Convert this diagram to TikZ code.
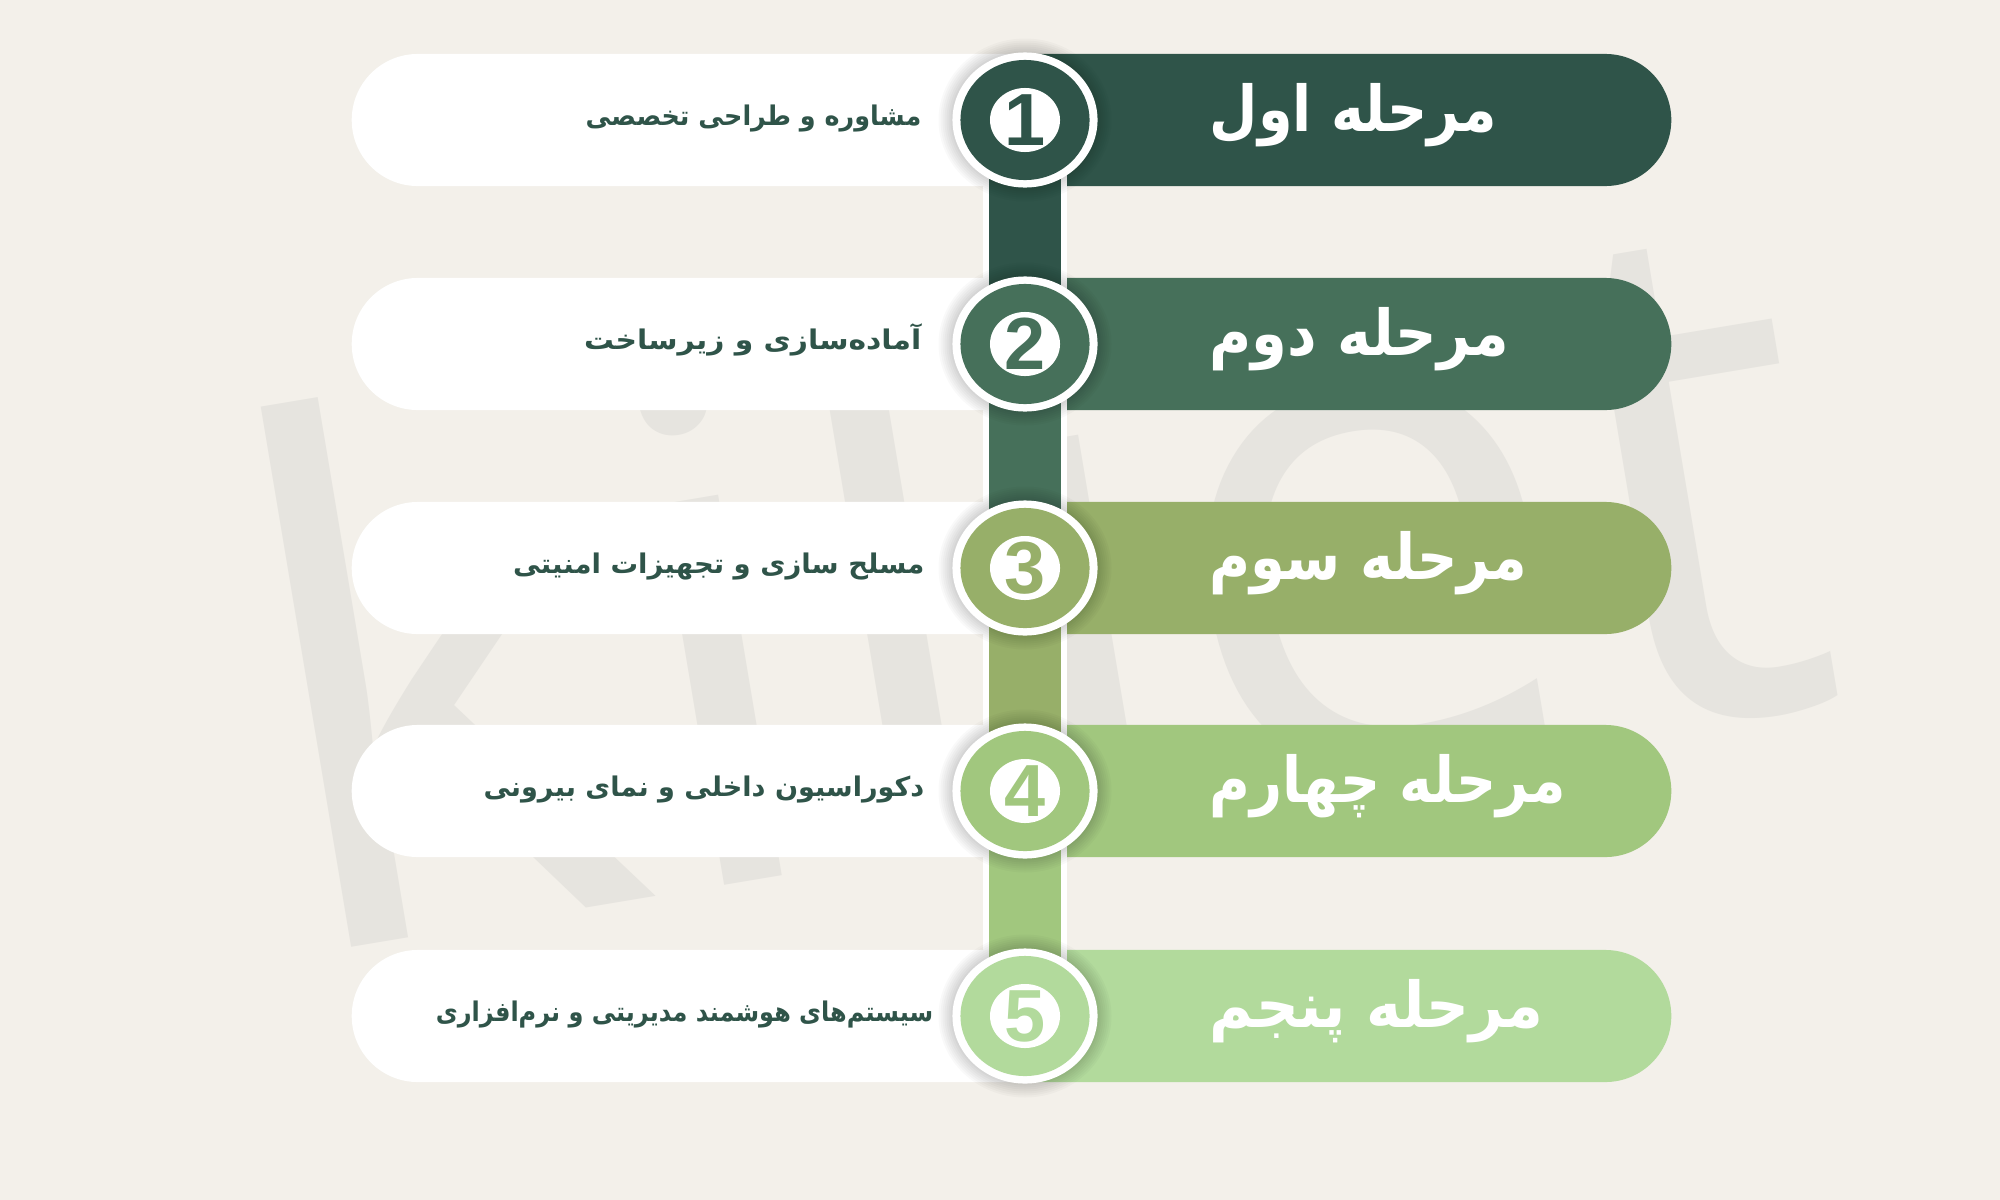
\documentclass[tikz,border=0pt]{standalone}
\usepackage{fontspec}
\usetikzlibrary{shapes.geometric,shapes.misc}
\setmainfont{DejaVu Sans}
\newfontfamily\fa[Script=Arabic]{DejaVu Sans}
\newfontfamily\wmfont{Open Sans}
\newfontfamily\numfont{Liberation Sans}
\TeXXeTstate=1
\definecolor{bgc}{HTML}{F3F0EA}
\definecolor{wmc}{HTML}{E6E4DF}
\definecolor{cA}{HTML}{2F5449}
\definecolor{cB}{HTML}{46705A}
\definecolor{cC}{HTML}{97AF69}
\definecolor{cD}{HTML}{A1C77E}
\definecolor{cE}{HTML}{B2DA9C}
\definecolor{txt}{HTML}{2F5449}
\tikzset{
  lpill/.style={rounded rectangle, rounded rectangle right arc=none, fill=white,
    minimum width=6.74cm, minimum height=1.32cm, inner sep=0, anchor=west},
  rpill/.style={rounded rectangle, rounded rectangle left arc=none, fill=#1,
    minimum width=6.47cm, minimum height=1.32cm, inner sep=0, anchor=east},
  ring/.style={ellipse, fill=white, minimum width=1.45cm, minimum height=1.35cm, inner sep=0},
  core/.style={ellipse, fill=#1, minimum width=1.29cm, minimum height=1.20cm, inner sep=0},
  disc/.style={ellipse, fill=white, minimum width=0.70cm, minimum height=0.64cm, inner sep=0},
  digit/.style={text=#1, font=\numfont\bfseries\fontsize{21}{21}\selectfont, inner sep=0},
  title/.style={anchor=base west, text=white, inner sep=0,
    font=\fa\bfseries\fontsize{18}{18}\selectfont},
  desc/.style={anchor=base east, text=txt, inner sep=0,
    font=\fa\bfseries\fontsize{7.7}{8}\selectfont},
}
\begin{document}
\begin{tikzpicture}[x=0.01cm,y=-0.01cm]
\useasboundingbox (0,0) rectangle (2000,1200);
\fill[bgc] (0,0) rectangle (2000,1200);
% watermark
\node[rotate=9.5, anchor=base west, inner sep=0, text=wmc,
  font=\wmfont\fontsize{205}{205}\selectfont] (water) at (290,958) {kiliet};
% centres
\coordinate (p1) at (1025,120);
\coordinate (p2) at (1025,344);
\coordinate (p3) at (1025,568);
\coordinate (p4) at (1025,791);
\coordinate (p5) at (1025,1016);
% pills
\foreach \i/\yy/\col in {1/120/cA,2/344/cB,3/568/cC,4/791/cD,5/1016/cE}{
  \node[lpill] (w\i) at (351,\yy) {};
  \node[rpill=\col] (r\i) at (1672,\yy) {};
}
% bar
\foreach \a/\b/\col in {p1/p2/cA,p2/p3/cB,p3/p4/cC,p4/p5/cD}{
  \draw[white, line width=0.83cm] (\a) -- (\b);
  \draw[\col, line width=0.71cm] (\a) -- (\b);
}
% circles with shadows
\foreach \i/\col in {1/cA,2/cB,3/cC,4/cD,5/cE}{
  \foreach \k in {1,...,7}{
    \fill[black, opacity=0.022] (p\i) ellipse [x radius={72.5+\k*2}, y radius={67.5+\k*2}];
  }
  \node[ring] (o\i) at (p\i) {};
  \node[core=\col] (i\i) at (p\i) {};
  \node[disc] (s\i) at (p\i) {};
  \node[digit=\col] (n\i) at (p\i) {\i};
}
% titles
\node[title] (t1) at (1209,131) {\scalebox{0.88}[1]{\beginR مرحله اول\endR}};
\node[title] (t2) at (1209,355) {\scalebox{0.91}[1]{\beginR مرحله دوم\endR}};
\node[title] (t3) at (1209,579) {\scalebox{0.885}[1]{\beginR مرحله سوم\endR}};
\node[title] (t4) at (1209,802) {\scalebox{0.88}[1]{\beginR مرحله چهارم\endR}};
\node[title] (t5) at (1209,1027) {\scalebox{0.94}[1]{\beginR مرحله پنجم\endR}};
% descriptions
\node[desc] (d1) at (922,125) {\scalebox{0.94}[1]{\beginR مشاوره و طراحی تخصصی\endR}};
\node[desc] (d2) at (922,349) {\scalebox{1.1}[1]{\beginR آماده‌سازی و زیرساخت\endR}};
\node[desc] (d3) at (925,573) {\scalebox{1.015}[1]{\beginR مسلح سازی و تجهیزات امنیتی\endR}};
\node[desc] (d4) at (925,796) {\beginR دکوراسیون داخلی و نمای بیرونی\endR};
\node[desc] (d5) at (934,1021) {\scalebox{0.886}[1]{\beginR سیستم‌های هوشمند مدیریتی و نرم‌افزاری\endR}};
\end{tikzpicture}
\end{document}
